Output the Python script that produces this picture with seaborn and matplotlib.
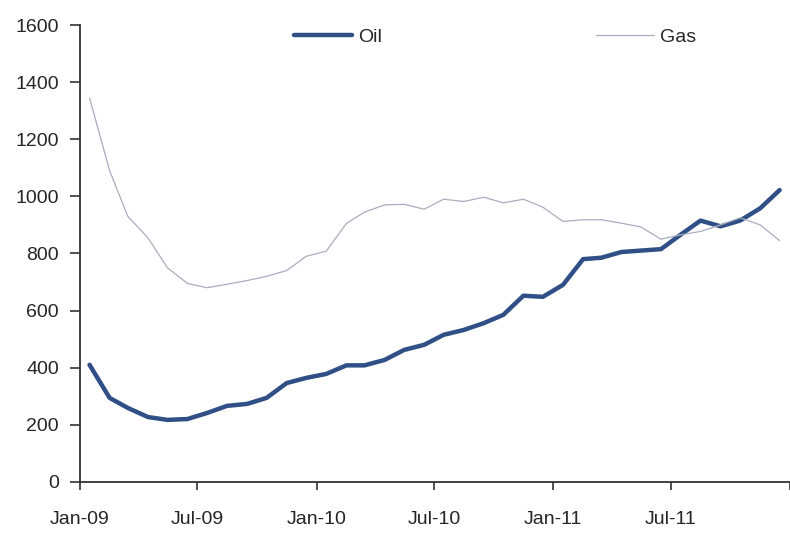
import numpy as np
import pandas as pd
import matplotlib
matplotlib.use("Agg")
import matplotlib.pyplot as plt
import matplotlib.dates as mdates
import seaborn as sns

# === Data (monthly, Jan-09 .. Dec-11) ===
months = pd.date_range("2009-01-01", periods=36, freq="MS") + pd.Timedelta(days=15)
oil = [410, 294, 259, 227, 217, 220, 241, 266, 273, 294, 346, 364,
       378, 408, 408, 427, 462, 480, 515, 532, 556, 585, 652, 648,
       690, 780, 785, 805, 810, 815, 865, 915, 895, 915, 958, 1022]
gas = [1345, 1090, 930, 855, 750, 695, 680, 692, 705, 720, 740, 790,
       808, 905, 945, 970, 972, 955, 990, 982, 997, 977, 990, 962,
       912, 918, 918, 906, 893, 850, 865, 877, 900, 925, 900, 845]
series_names = ["Oil", "Gas"]
y_ticks = [0, 200, 400, 600, 800, 1000, 1200, 1400, 1600]

df = pd.DataFrame({"date": list(months) * 2,
                   "value": oil + gas,
                   "series": ["Oil"] * len(oil) + ["Gas"] * len(gas)})

# === Style ===
sns.set_style("white")
plt.rcParams["font.family"] = ["Liberation Sans", "DejaVu Sans"]

fig = plt.figure(figsize=(7.9, 5.33), dpi=100)
ax = fig.add_axes([0.101, 0.096, 0.899, 0.857])

palette = {"Oil": "#2f4f86", "Gas": "#a9aebd"}
sns.lineplot(data=df, x="date", y="value", hue="series", size="series",
             sizes={"Oil": 3.2, "Gas": 0.9}, palette=palette,
             hue_order=series_names, size_order=series_names, ax=ax)
for line in ax.get_lines():
    line.set_solid_joinstyle("round")
    line.set_solid_capstyle("round")

ax.set_xlim(pd.Timestamp("2009-01-01"), pd.Timestamp("2012-01-01"))
ax.set_ylim(0, 1600)
ax.set_yticks(y_ticks)
ax.xaxis.set_major_locator(mdates.MonthLocator(bymonth=[1, 7]))
# last tick (Jan-12) sits on the right edge and carries no label
ax.xaxis.set_major_formatter(
    plt.FuncFormatter(lambda v, p: "" if mdates.num2date(v).year == 2012
                      else mdates.num2date(v).strftime("%b-%y")))
ax.set_xlabel("")
ax.set_ylabel("")

for side in ["top", "right"]:
    ax.spines[side].set_visible(False)
for side in ["left", "bottom"]:
    ax.spines[side].set_color("#333333")
    ax.spines[side].set_linewidth(1.3)

ax.tick_params(axis="y", direction="out", length=7, width=1.2, color="#333333",
               labelsize=14, pad=8, left=True)
ax.tick_params(axis="x", direction="out", length=6, width=1.2, color="#333333",
               labelsize=14, pad=15, bottom=True)

handles, labels = ax.get_legend_handles_labels()
for h in handles:
    h.set_solid_capstyle("round")
leg = ax.legend(handles, labels, loc="center", bbox_to_anchor=(0.585, 0.973),
                ncol=2, frameon=False, fontsize=14, handlelength=3.0,
                handletextpad=0.3, columnspacing=11.0)

fig.savefig("out.png", dpi=100)
